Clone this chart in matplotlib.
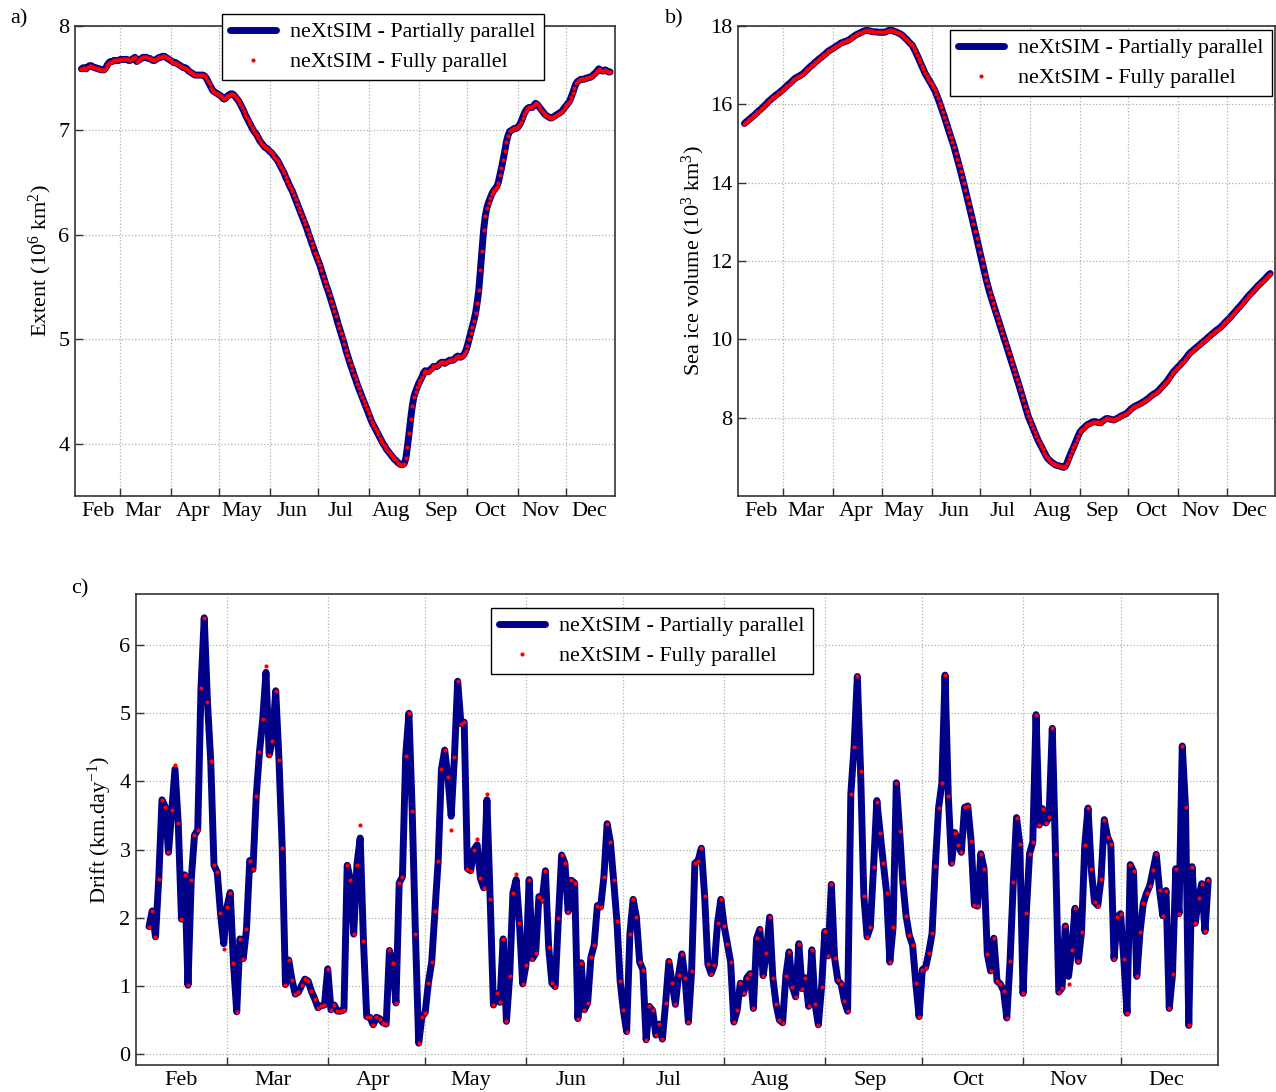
import numpy as np
import matplotlib
matplotlib.use("Agg")
import matplotlib.pyplot as plt
import matplotlib.dates as mdates
from matplotlib.ticker import NullFormatter

plt.rcParams["font.family"] = ["Liberation Serif", "DejaVu Serif"]
plt.rcParams["mathtext.fontset"] = "custom"
plt.rcParams["mathtext.rm"] = "Liberation Serif"
plt.rcParams["mathtext.it"] = "Liberation Serif:italic"

# Daily model output, first day 5 February
start_date = "2007-02-05"
series_labels = ["neXtSIM - Partially parallel", "neXtSIM - Fully parallel"]

# Sea ice extent (10^6 km2)
extent = [
    7.59, 7.60, 7.60, 7.59, 7.61, 7.62, 7.62,
    7.61, 7.60, 7.60, 7.59, 7.59, 7.58, 7.58, 7.58,
    7.60, 7.63, 7.65, 7.66,
    7.66, 7.67, 7.67, 7.67, 7.67,
    7.68, 7.68, 7.68, 7.68, 7.68,
    7.67, 7.67, 7.68, 7.69, 7.70,
    7.66, 7.67, 7.68, 7.69, 7.70, 7.70,
    7.70, 7.69, 7.69, 7.68, 7.67, 7.67,
    7.68, 7.69, 7.70, 7.70, 7.71, 7.71,
    7.70, 7.69, 7.68, 7.67,
    7.66, 7.65, 7.65, 7.64, 7.63,
    7.62, 7.61, 7.60, 7.60, 7.59,
    7.57, 7.56, 7.55, 7.54, 7.53,
    7.53, 7.53, 7.53, 7.53, 7.53,
    7.52, 7.50, 7.47, 7.44,
    7.41, 7.38, 7.37, 7.36, 7.35,
    7.34, 7.33, 7.31, 7.30,
    7.31, 7.33, 7.34, 7.35, 7.35,
    7.34, 7.32, 7.30, 7.28, 7.25,
    7.22, 7.19, 7.15, 7.12, 7.09, 7.06,
    7.03, 7.00, 6.98, 6.96, 6.93, 6.90,
    6.88, 6.86, 6.84, 6.83, 6.82, 6.80,
    6.79, 6.77, 6.75, 6.73, 6.71, 6.68,
    6.65, 6.62, 6.59, 6.55, 6.52, 6.48,
    6.45, 6.42, 6.38, 6.34, 6.30, 6.26,
    6.22, 6.18, 6.14, 6.10, 6.06, 6.01,
    5.97, 5.92, 5.88, 5.83, 5.79, 5.75,
    5.71, 5.66, 5.61, 5.56, 5.51, 5.47,
    5.42, 5.37, 5.32, 5.27, 5.22, 5.16,
    5.11, 5.06, 5.01, 4.96, 4.90, 4.85,
    4.80, 4.75, 4.71, 4.66, 4.62, 4.57,
    4.53, 4.49, 4.45, 4.41, 4.37, 4.33,
    4.29, 4.25, 4.21, 4.18, 4.15, 4.12,
    4.09, 4.06, 4.03, 4.00, 3.98, 3.95,
    3.93, 3.91, 3.89, 3.87, 3.85, 3.84,
    3.82, 3.81, 3.80, 3.80, 3.81,
    3.86, 3.97, 4.10, 4.24, 4.36, 4.45,
    4.50, 4.54, 4.58, 4.61, 4.64, 4.68,
    4.70, 4.69, 4.69, 4.71, 4.72, 4.74,
    4.74, 4.74, 4.75, 4.77, 4.78, 4.78,
    4.77, 4.78, 4.79, 4.80, 4.80, 4.80,
    4.81, 4.83, 4.84, 4.83, 4.83, 4.84,
    4.86, 4.89, 4.94, 5.00, 5.06, 5.12,
    5.18, 5.25, 5.35, 5.47, 5.66, 5.85,
    6.05, 6.18, 6.26, 6.31, 6.35, 6.39,
    6.42, 6.44, 6.46, 6.50, 6.57, 6.64,
    6.72, 6.80, 6.89, 6.95, 6.99, 7.00,
    7.01, 7.02, 7.02, 7.03, 7.05, 7.08,
    7.12, 7.16, 7.19, 7.21, 7.22, 7.22,
    7.22, 7.24, 7.26, 7.25, 7.23, 7.21,
    7.19, 7.17, 7.15, 7.14, 7.13, 7.12,
    7.12, 7.13, 7.14, 7.15, 7.16, 7.17,
    7.18, 7.20, 7.22, 7.24, 7.26, 7.28,
    7.32, 7.36, 7.41, 7.45, 7.47, 7.48,
    7.49, 7.49, 7.49, 7.50, 7.50, 7.51,
    7.51, 7.52, 7.54, 7.55, 7.57, 7.59,
    7.58, 7.57, 7.57, 7.58, 7.57, 7.56, 7.56,
]

# Sea ice volume (10^3 km3)
volume = [
    15.51, 15.55, 15.58, 15.62, 15.65, 15.69, 15.72, 15.76,
    15.80, 15.84, 15.87, 15.91, 15.95, 15.99, 16.03, 16.08,
    16.11, 16.15, 16.18, 16.22, 16.25, 16.28, 16.31, 16.35, 16.38,
    16.42, 16.46, 16.50, 16.53, 16.57, 16.61, 16.65, 16.68,
    16.70, 16.72, 16.75, 16.77,
    16.81, 16.85, 16.89, 16.93, 16.97, 17.00, 17.04, 17.08,
    17.11, 17.15, 17.18, 17.21, 17.25, 17.28, 17.32, 17.36,
    17.38, 17.41, 17.43, 17.46, 17.49, 17.51, 17.54, 17.57,
    17.58, 17.60, 17.61, 17.63, 17.65,
    17.68, 17.71, 17.74, 17.77, 17.79, 17.81,
    17.83, 17.85, 17.87, 17.88, 17.89,
    17.88, 17.87, 17.86, 17.85, 17.85,
    17.85, 17.84, 17.84, 17.84, 17.84, 17.84,
    17.86, 17.88, 17.89, 17.89, 17.88, 17.86,
    17.85, 17.83, 17.81, 17.79, 17.76, 17.72,
    17.68, 17.64, 17.59, 17.55, 17.51,
    17.43, 17.35, 17.26, 17.17,
    17.07, 16.98, 16.89, 16.79,
    16.72, 16.65, 16.58, 16.51, 16.43, 16.36,
    16.26, 16.15, 16.04, 15.92, 15.80, 15.68,
    15.55, 15.42, 15.29, 15.16, 15.04, 14.91,
    14.76, 14.61, 14.46, 14.30, 14.14, 13.98, 13.81,
    13.64, 13.47, 13.30, 13.12, 12.94, 12.76, 12.58, 12.40,
    12.22, 12.04, 11.86, 11.68, 11.51, 11.35, 11.20, 11.07,
    10.94, 10.81, 10.68, 10.55, 10.42, 10.29, 10.16, 10.03,
    9.90, 9.77, 9.64, 9.51, 9.38, 9.25, 9.12, 8.99, 8.86,
    8.72, 8.58, 8.44, 8.30, 8.16, 8.03,
    7.93, 7.83, 7.73, 7.63, 7.53, 7.43,
    7.35, 7.27, 7.19, 7.11, 7.03, 6.96,
    6.92, 6.88, 6.85, 6.82, 6.79,
    6.78, 6.77, 6.76, 6.74, 6.73,
    6.76, 6.84, 6.95, 7.05, 7.15, 7.24,
    7.34, 7.44, 7.54, 7.63,
    7.68, 7.72, 7.76, 7.80,
    7.83, 7.85, 7.87, 7.89, 7.90,
    7.89, 7.88, 7.87, 7.87,
    7.91, 7.94, 7.97, 7.98,
    7.97, 7.96, 7.95, 7.94,
    7.96, 7.98, 8.00, 8.03,
    8.05, 8.07, 8.09, 8.11,
    8.15, 8.19, 8.23, 8.26,
    8.29, 8.31, 8.33, 8.35,
    8.37, 8.40, 8.42, 8.45,
    8.48, 8.51, 8.55, 8.58, 8.61, 8.63, 8.66,
    8.70, 8.75, 8.79, 8.84, 8.88,
    8.93, 8.99, 9.05, 9.11, 9.17,
    9.21, 9.26, 9.30, 9.34, 9.39, 9.43,
    9.48, 9.53, 9.59, 9.64,
    9.68, 9.71, 9.75, 9.78, 9.82, 9.85,
    9.89, 9.92, 9.96, 9.99, 10.03, 10.07,
    10.10, 10.14, 10.17, 10.21, 10.24, 10.27, 10.30,
    10.34, 10.38, 10.43, 10.47, 10.51, 10.55,
    10.60, 10.65, 10.69, 10.74, 10.79, 10.83,
    10.88, 10.93, 10.98, 11.03, 11.08, 11.13,
    11.17, 11.21, 11.26, 11.30, 11.35, 11.39,
    11.43, 11.47, 11.51, 11.55, 11.60, 11.64, 11.68,
]

# Daily mean drift (km/day), fully parallel run
drift_full = [
    1.87, 2.10, 1.72, 2.57, 3.73, 3.63, 2.96, 3.58, 4.24, 3.39,
    1.98, 2.63, 1.01, 2.56, 3.21, 3.29, 5.37, 6.40, 5.16, 4.30,
    2.77, 2.67, 2.07, 1.54, 2.16, 2.37, 1.33, 0.62, 1.69, 1.40,
    1.83, 2.84, 2.71, 3.78, 4.43, 4.91, 5.69, 4.39, 4.60, 5.33,
    4.32, 3.02, 1.02, 1.38, 1.09, 0.88, 0.91, 1.01, 1.10, 1.07,
    0.92, 0.81, 0.68, 0.71, 0.72, 1.25, 0.65, 0.72, 0.63, 0.63,
    0.65, 2.77, 2.56, 1.76, 2.78, 3.36, 1.66, 0.55, 0.54, 0.43,
    0.54, 0.52, 0.46, 0.44, 1.52, 1.33, 0.75, 2.51, 2.60, 4.38,
    5.00, 3.57, 1.76, 0.16, 0.55, 0.61, 1.05, 1.35, 2.10, 2.84,
    4.18, 4.46, 4.06, 3.29, 4.36, 5.47, 4.85, 4.87, 2.72, 2.69,
    3.00, 3.15, 2.58, 2.44, 3.82, 2.27, 0.72, 0.89, 0.76, 1.69,
    0.48, 1.14, 2.36, 2.64, 1.93, 1.03, 1.30, 2.56, 1.40, 1.48,
    2.31, 2.26, 2.69, 1.57, 1.04, 0.99, 1.99, 2.92, 2.80, 2.09,
    2.55, 2.51, 0.52, 1.34, 0.65, 0.75, 1.42, 1.60, 2.18, 2.16,
    2.60, 3.38, 3.11, 2.55, 1.95, 1.07, 0.64, 0.33, 1.76, 2.27,
    2.01, 1.35, 1.24, 0.21, 0.70, 0.64, 0.28, 0.44, 0.22, 0.75,
    1.36, 1.04, 0.73, 1.16, 1.47, 1.11, 0.47, 1.22, 2.80, 2.84,
    3.02, 2.32, 1.32, 1.18, 1.31, 1.93, 2.27, 1.88, 1.62, 1.35,
    0.47, 0.64, 1.04, 0.89, 1.12, 1.18, 0.67, 1.70, 1.83, 1.15,
    1.48, 2.01, 1.12, 0.73, 0.50, 0.46, 1.15, 1.50, 0.99, 0.84,
    1.62, 0.96, 1.12, 0.70, 1.53, 0.73, 0.43, 0.99, 1.80, 1.44,
    2.49, 1.41, 1.08, 1.03, 0.78, 0.63, 3.82, 4.51, 5.54, 4.15,
    2.32, 1.72, 1.86, 2.75, 3.70, 3.25, 2.80, 2.37, 1.35, 1.86,
    3.98, 3.28, 2.52, 2.03, 1.74, 1.60, 1.04, 0.55, 1.24, 1.27,
    1.49, 1.77, 2.76, 3.61, 3.97, 5.56, 3.78, 2.80, 3.25, 3.07,
    2.96, 3.62, 3.64, 3.13, 2.19, 2.17, 2.94, 2.72, 1.47, 1.22,
    1.70, 1.07, 1.03, 0.93, 0.53, 1.37, 2.52, 3.47, 3.08, 0.89,
    2.07, 2.94, 3.11, 4.98, 3.36, 3.60, 3.39, 3.48, 4.78, 2.93,
    0.91, 0.97, 1.88, 1.03, 1.53, 2.14, 1.36, 1.79, 3.07, 3.61,
    2.71, 2.23, 2.18, 2.57, 3.44, 3.19, 3.08, 1.40, 2.01, 2.06,
    1.40, 0.60, 2.78, 2.68, 1.14, 1.79, 2.21, 2.36, 2.47, 2.70,
    2.93, 2.41, 2.03, 2.40, 0.67, 1.17, 2.72, 2.06, 4.52, 3.62,
    0.42, 2.75, 1.92, 2.29, 2.50, 1.80, 2.55,
]

# Days (index into the series) where the partially parallel run differs
drift_partial_differences = {
    8: 4.18, 23: 1.62, 36: 5.60, 65: 3.17, 93: 3.49, 101: 3.07,
    104: 3.73, 113: 2.56, 224: 3.72, 283: 1.14,
}

drift_partial = list(drift_full)
for day_index, value in drift_partial_differences.items():
    drift_partial[day_index] = value

LINE_COLOR = "#000088"
DOT_COLOR = "red"
FS = 16
LEGEND_FS = 15.8


def dates(n):
    return np.datetime64(start_date) + np.arange(n).astype("timedelta64[D]")


def style_axis(ax, yticks, ylim):
    ax.set_xlim(np.datetime64("2007-02-01"), np.datetime64("2007-12-31"))
    ax.set_ylim(*ylim)
    ax.set_yticks(yticks)
    ax.xaxis.set_major_locator(mdates.MonthLocator(bymonth=range(3, 13)))
    ax.xaxis.set_major_formatter(NullFormatter())
    ax.xaxis.set_minor_locator(mdates.MonthLocator(bymonthday=15))
    ax.xaxis.set_minor_formatter(mdates.DateFormatter("%b"))
    ax.tick_params(which="major", direction="in", length=6, width=1.0,
                   color="#333333", labelsize=FS, top=False, right=False)
    ax.tick_params(axis="x", which="minor", length=0, labelsize=FS, pad=4)
    ax.tick_params(axis="y", which="major", pad=4)
    ax.grid(True, which="major", color="#b0b0b0", linestyle=":", linewidth=0.9)
    for spine in ax.spines.values():
        spine.set_color("#333333")
        spine.set_linewidth(1.2)


def draw(ax, x, line_vals, dot_vals):
    ax.plot(x, line_vals, color=LINE_COLOR, lw=5, solid_capstyle="round",
            solid_joinstyle="round", label=series_labels[0])
    ax.plot(x, dot_vals, ls="none", marker="o", ms=3.0, color=DOT_COLOR,
            mec="none", label=series_labels[1])


def add_legend(ax, fig, corner):
    leg = ax.legend(loc="upper left", bbox_to_anchor=corner,
                    bbox_transform=fig.transFigure, fancybox=False,
                    edgecolor="black", framealpha=1, borderaxespad=0,
                    handlelength=2.1, numpoints=1, fontsize=LEGEND_FS,
                    borderpad=0.36, labelspacing=0.45, handletextpad=0.65)
    leg.get_frame().set_linewidth(1.0)


W, H = 1276, 1092
fig = plt.figure(figsize=(W / 100, H / 100), dpi=100)


def box(left, top, right, bottom):
    return [left / W, 1 - bottom / H, (right - left) / W, (bottom - top) / H]


ax_a = fig.add_axes(box(75, 26, 615, 496))
ax_b = fig.add_axes(box(738, 26, 1275, 496))
ax_c = fig.add_axes(box(136, 594, 1218, 1065))

x_a = dates(len(extent))
draw(ax_a, x_a, extent, extent)
style_axis(ax_a, [4, 5, 6, 7, 8], (3.5, 8.0))
ax_a.set_ylabel("Extent (10$^6$ km$^2$)", fontsize=FS, labelpad=3)
add_legend(ax_a, fig, (222 / W, 1 - 14 / H))

x_b = dates(len(volume))
draw(ax_b, x_b, volume, volume)
style_axis(ax_b, [8, 10, 12, 14, 16, 18], (6.0, 18.0))
ax_b.set_ylabel("Sea ice volume (10$^3$ km$^3$)", fontsize=FS, labelpad=2)
add_legend(ax_b, fig, (950 / W, 1 - 30 / H))

x_c = dates(len(drift_full))
draw(ax_c, x_c, drift_partial, drift_full)
style_axis(ax_c, [0, 1, 2, 3, 4, 5, 6], (-0.16, 6.75))
ax_c.set_ylabel("Drift (km.day$^{-1}$)", fontsize=FS, labelpad=4)
add_legend(ax_c, fig, (491 / W, 1 - 608 / H))

fig.text(10 / W, 1 - 19 / H, "a)", fontsize=FS, va="center", ha="left")
fig.text(665 / W, 1 - 19 / H, "b)", fontsize=FS, va="center", ha="left")
fig.text(71 / W, 1 - 589 / H, "c)", fontsize=FS, va="center", ha="left")

fig.savefig("out.png", dpi=100)
